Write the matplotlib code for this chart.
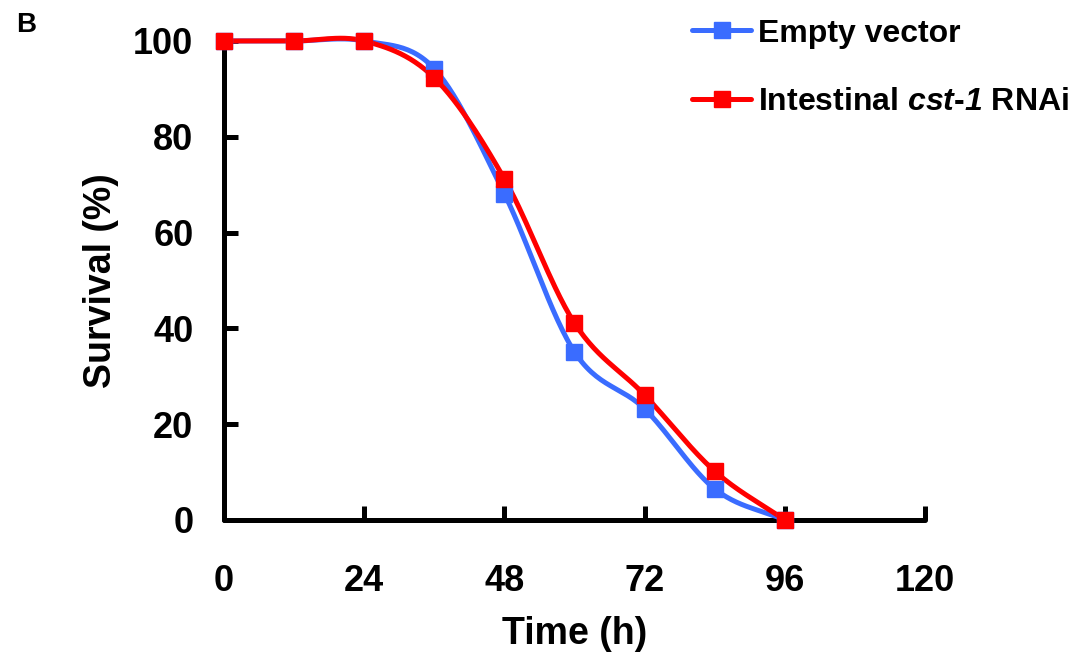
import numpy as np
import matplotlib
matplotlib.use("Agg")
import matplotlib.pyplot as plt

# survival data (every 12 h)
hours = [0, 12, 24, 36, 48, 60, 72, 84, 96]
empty_vector = [100, 100, 100, 94.2, 68.1, 35.1, 23.2, 6.5, 0]
cst1_rnai = [100, 100, 100, 92.3, 71.2, 41.1, 26.1, 10.2, 0]
x_ticks = [0, 24, 48, 72, 96, 120]
y_ticks = [0, 20, 40, 60, 80, 100]

plt.rcParams["font.family"] = ["Liberation Sans", "DejaVu Sans"]
plt.rcParams["font.weight"] = "bold"
plt.rcParams["mathtext.fontset"] = "custom"
plt.rcParams["mathtext.bfit"] = "Liberation Sans:bold:italic"
plt.rcParams["mathtext.it"] = "Liberation Sans:bold:italic"


def smooth(x, y, n=30):
    # Excel-like smoothed line: Catmull-Rom through the data points
    x = np.asarray(x, float)
    y = np.asarray(y, float)
    px = np.concatenate([[2 * x[0] - x[1]], x, [2 * x[-1] - x[-2]]])
    py = np.concatenate([[2 * y[0] - y[1]], y, [2 * y[-1] - y[-2]]])
    xs, ys = [], []
    t = np.linspace(0, 1, n)
    for i in range(1, len(px) - 2):
        for p, out in ((px, xs), (py, ys)):
            p0, p1, p2, p3 = p[i - 1], p[i], p[i + 1], p[i + 2]
            out.extend(0.5 * ((2 * p1) + (-p0 + p2) * t
                              + (2 * p0 - 5 * p1 + 4 * p2 - p3) * t ** 2
                              + (-p0 + 3 * p1 - 3 * p2 + p3) * t ** 3))
    return xs, ys


fig = plt.figure(figsize=(10.75, 6.64), dpi=100)
ax = fig.add_axes([0.2084, 0.2169, 0.652, 0.7214])

series = [(empty_vector, "#3a6cff", "Empty vector"),
          (cst1_rnai, "#ff0000", r"Intestinal $\mathbfit{cst}$-$\mathbfit{1}$ RNAi")]
handles = []
for vals, col, lab in series:
    sx, sy = smooth(hours, vals)
    ax.plot(sx, sy, color=col, lw=3.6, solid_capstyle="round", zorder=3, clip_on=False)
    ax.plot(hours, vals, ls="none", marker="s", ms=11, color=col, zorder=4, clip_on=False)
    h, = ax.plot([], [], color=col, lw=3.6, marker="s", ms=11,
                 solid_capstyle="round", label=lab)
    handles.append(h)

ax.set_xlim(0, 120)
ax.set_ylim(0, 100)
ax.set_xticks(x_ticks)
ax.set_yticks(y_ticks)
for s in ["top", "right"]:
    ax.spines[s].set_visible(False)
for s in ["left", "bottom"]:
    ax.spines[s].set_linewidth(3.6)
    ax.spines[s].set_capstyle("round")
ax.tick_params(direction="in", length=10, width=3.6, labelsize=26)
ax.tick_params(axis="x", pad=32)
ax.tick_params(axis="y", pad=22)
for lbl in ax.get_xticklabels() + ax.get_yticklabels():
    lbl.set_fontweight("bold")

ax.set_xlabel("Time (h)", fontsize=27, fontweight="bold", labelpad=12)
ax.set_ylabel("Survival (%)", fontsize=27, fontweight="bold", labelpad=10)

leg = fig.legend(handles=handles, loc="upper left", bbox_to_anchor=(0.644, 0.972),
                 frameon=False, handlelength=1.85, handletextpad=0.2,
                 labelspacing=1.2, borderpad=0, borderaxespad=0,
                 prop={"weight": "bold", "size": 23})

fig.text(0.015, 0.952, "B", fontsize=20, fontweight="bold")

fig.savefig("out.png", dpi=100)
